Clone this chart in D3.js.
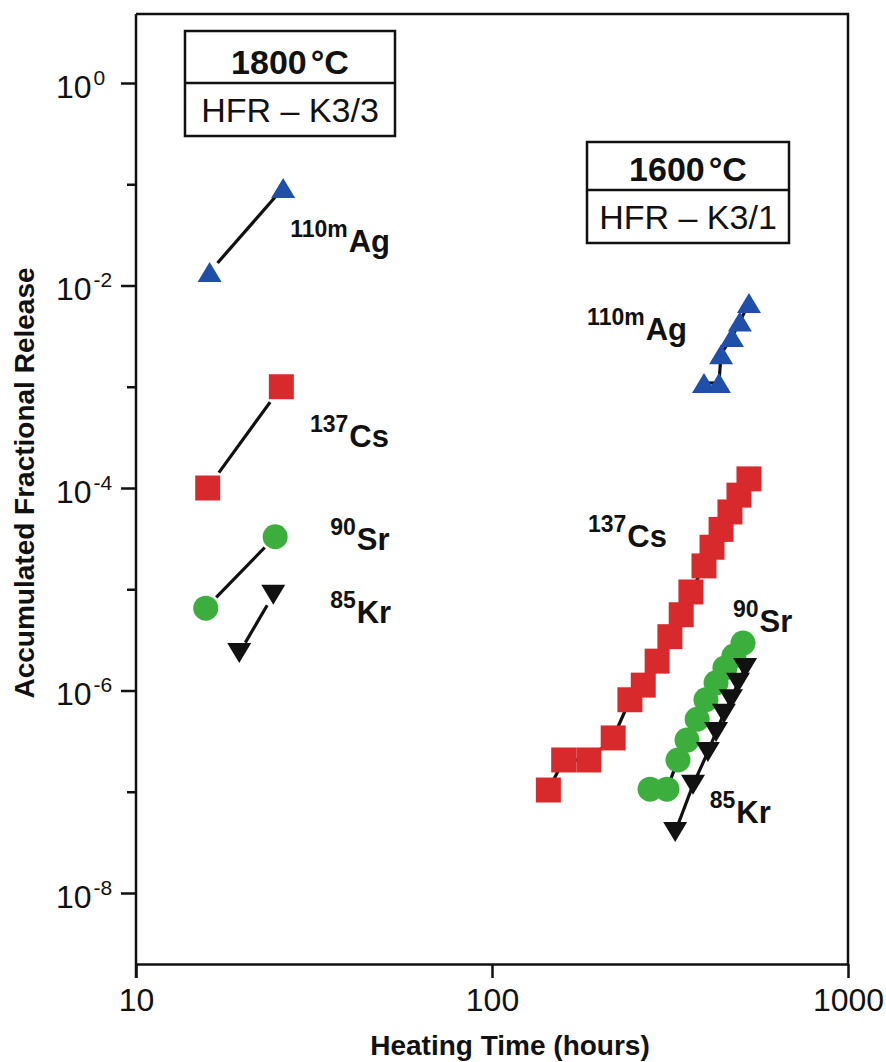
<!DOCTYPE html>
<html>
<head>
<meta charset="utf-8">
<script src="https://cdn.jsdelivr.net/npm/d3@7"></script>
<style>
  html, body { margin: 0; padding: 0; background: #fff; }
  svg { display: block; font-family: "Liberation Sans", Arial, Helvetica, sans-serif; }
</style>
</head>
<body>
<svg id="chart" width="886" height="1062"></svg>
<script>
// ---- data (hours, accumulated fractional release) ----
// 1800 °C, HFR-K3/3
const agTime1800 = [16.1, 25.9];
const agRel1800  = [1.36e-2, 9.2e-2];
const csTime1800 = [15.9, 25.6];
const csRel1800  = [1.0e-4, 1.0e-3];
const srTime1800 = [15.7, 24.6];
const srRel1800  = [6.5e-6, 3.3e-5];
const krTime1800 = [19.5, 24.3];
const krRel1800  = [2.35e-6, 8.8e-6];

// 1600 °C, HFR-K3/1
const agTime1600 = [394, 434, 440, 472, 497, 527];
const agRel1600  = [1.09e-3, 1.09e-3, 2.1e-3, 3.1e-3, 4.4e-3, 6.7e-3];
const csTime1600 = [144, 159, 187, 219, 244, 266, 291, 316, 340, 362, 394, 415, 440, 466, 494, 527];
const csRel1600  = [1.04e-7, 2.06e-7, 2.06e-7, 3.4e-7, 8.1e-7, 1.13e-6, 1.95e-6, 3.4e-6, 5.6e-6,
                    9.4e-6, 1.7e-5, 2.6e-5, 3.9e-5, 5.8e-5, 8.5e-5, 1.23e-4];
const srTime1600 = [278, 310, 333, 353, 377, 399, 426, 451, 478, 507];
const srRel1600  = [1.06e-7, 1.06e-7, 2.06e-7, 3.24e-7, 5.2e-7, 8.1e-7, 1.19e-6, 1.67e-6, 2.19e-6, 2.94e-6];
const krTime1600 = [327, 367, 404, 426, 448, 469, 491, 514];
const krRel1600  = [4.0e-8, 1.17e-7, 2.47e-7, 3.89e-7, 5.9e-7, 8.2e-7, 1.19e-6, 1.67e-6];

// axis ticks
const xTicks = [10, 100, 1000];
const yExps  = [0, -1, -2, -3, -4, -5, -6, -7, -8];

// nuclide labels: [mass, element, time, release at baseline]
const labels = [
  ['110m', 'Ag', 27.1, 2.14e-2],
  ['137',  'Cs', 30.8, 2.54e-4],
  ['90',   'Sr', 35.1, 2.44e-5],
  ['85',   'Kr', 35.1, 4.64e-6],
  ['110m', 'Ag', 185,  2.9e-3],
  ['137',  'Cs', 186,  2.6e-5],
  ['90',   'Sr', 475,  3.8e-6],
  ['85',   'Kr', 409,  4.9e-8]
];

// ---- style ----
const COL = {ag:'#1f4fa9', cs:'#d82a2c', sr:'#3cae3e', kr:'#111111'};

const x = d3.scaleLog().domain([10, 1000]).range([136, 848]);
const y = d3.scaleLog().domain([1e-8, 1]).range([893, 83]);
const yTop = y.invert(14), yBot = y.invert(964);

const svg = d3.select('#chart');

const series = [
  {t:agTime1800, r:agRel1800, shape:'tri',  c:COL.ag, trim:12},
  {t:csTime1800, r:csRel1800, shape:'sq',   c:COL.cs, trim:19},
  {t:srTime1800, r:srRel1800, shape:'circ', c:COL.sr, trim:15},
  {t:krTime1800, r:krRel1800, shape:'tdn',  c:COL.kr, trim:12},
  {t:agTime1600, r:agRel1600, shape:'tri',  c:COL.ag, trim:0},
  {t:csTime1600, r:csRel1600, shape:'sq',   c:COL.cs, trim:0},
  {t:srTime1600, r:srRel1600, shape:'circ', c:COL.sr, trim:0},
  {t:krTime1600, r:krRel1600, shape:'tdn',  c:COL.kr, trim:0}
];

const SHAPES = {
  tri:  'M0,-10L12,10L-12,10Z',
  tdn:  'M-12,-10L12,-10L0,10Z',
  sq:   'M-12.5,-12.5h25v25h-25Z',
  circ: d3.symbol().type(d3.symbolCircle).size(Math.PI * 12.5 * 12.5)()
};

// frame (top and right)
svg.append('path')
  .attr('d', `M${x(10)},${y(yTop)}H${x(1000)}V${y(yBot)}`)
  .attr('fill', 'none').attr('stroke', '#111').attr('stroke-width', 2.5);

// x axis
const gx = svg.append('g').attr('transform', `translate(0,${y(yBot)})`)
  .call(d3.axisBottom(x).tickValues(xTicks).tickSize(14).tickSizeOuter(0).tickFormat(d3.format('d')));
gx.select('.domain').attr('stroke', '#111').attr('stroke-width', 2.5);
gx.selectAll('.tick line').attr('stroke', '#111').attr('stroke-width', 2.5);
gx.selectAll('.tick text').attr('font-size', 32).attr('fill', '#111')
  .attr('font-family', '"Liberation Sans", Arial, sans-serif').attr('dy', null).attr('y', 47);

// y axis: long ticks on even decades, short on odd
const gy = svg.append('g').attr('transform', `translate(${x(10)},0)`)
  .call(d3.axisLeft(y).tickValues(yExps.map(e => Math.pow(10, e))).tickFormat('').tickSizeOuter(0));
gy.select('.domain').attr('d', `M0,${y(yTop)}V${y(yBot) + 14}`)
  .attr('stroke', '#111').attr('stroke-width', 2.5);
gy.selectAll('.tick line')
  .attr('x2', d => (Math.round(Math.log10(d)) % 2 === 0 ? -15 : -9))
  .attr('stroke', '#111').attr('stroke-width', 2.5);
gy.selectAll('.tick').filter(d => Math.round(Math.log10(d)) % 2 === 0)
  .append('text')
  .attr('x', -80).attr('y', 0).attr('fill', '#111').attr('text-anchor', 'start')
  .each(function(d) {
    const e = Math.round(Math.log10(d));
    const t = d3.select(this);
    t.append('tspan').attr('font-size', 32).attr('dy', 14).text('10');
    t.append('tspan').attr('font-size', 21).attr('dx', 2).attr('dy', -13).text(e === 0 ? '0' : String(e));
  });

// axis titles
svg.append('text')
  .attr('transform', `translate(34,483) rotate(-90)`)
  .attr('text-anchor', 'middle').attr('font-weight', 'bold').attr('font-size', 28).attr('fill', '#111')
  .text('Accumulated Fractional Release');
svg.append('text')
  .attr('x', 510).attr('y', 1055)
  .attr('text-anchor', 'middle').attr('font-weight', 'bold').attr('font-size', 28).attr('fill', '#111')
  .text('Heating Time (hours)');

// connecting lines
const lineG = svg.append('g').attr('stroke', '#111').attr('stroke-width', 3.2).attr('stroke-linecap', 'butt');
series.forEach(s => {
  const pts = s.t.map((t, i) => [x(t), y(s.r[i])]);
  d3.pairs(pts).forEach(([a, b]) => {
    const dx = b[0] - a[0], dy = b[1] - a[1], len = Math.hypot(dx, dy);
    if (len <= 2 * s.trim + 1) return;
    const ux = dx / len, uy = dy / len;
    lineG.append('line')
      .attr('x1', a[0] + ux * s.trim).attr('y1', a[1] + uy * s.trim)
      .attr('x2', b[0] - ux * s.trim).attr('y2', b[1] - uy * s.trim);
  });
});

// markers
series.forEach(s => {
  svg.append('g').selectAll('path')
    .data(s.t.map((t, i) => ({t, r: s.r[i]})))
    .join('path')
    .attr('d', SHAPES[s.shape])
    .attr('transform', d => `translate(${x(d.t)},${y(d.r)})`)
    .attr('fill', s.c);
});

// nuclide labels
labels.forEach(([mass, el, t, r]) => {
  const tx = svg.append('text').attr('x', x(t)).attr('y', y(r))
    .attr('font-weight', 'bold').attr('fill', '#111');
  tx.append('tspan').attr('font-size', 23).attr('dy', -15).text(mass);
  tx.append('tspan').attr('font-size', 31).attr('dx', 1).attr('dy', 15).text(el);
});

// condition boxes
const boxes = [
  {temp:'1800', id:'HFR – K3/3', x0:185, x1:395, y0:31, y1:136, mid:83},
  {temp:'1600', id:'HFR – K3/1', x0:587, x1:789, y0:142, y1:243, mid:190}
];
boxes.forEach(b => {
  const g = svg.append('g');
  g.append('rect').attr('x', b.x0).attr('y', b.y0)
    .attr('width', b.x1 - b.x0).attr('height', b.y1 - b.y0)
    .attr('fill', '#fff').attr('stroke', '#111').attr('stroke-width', 2.5);
  g.append('line').attr('x1', b.x0).attr('x2', b.x1).attr('y1', b.mid).attr('y2', b.mid)
    .attr('stroke', '#111').attr('stroke-width', 2.5);
  const cx = (b.x0 + b.x1) / 2;
  const t1 = g.append('text').attr('x', cx).attr('y', b.mid - 9)
    .attr('text-anchor', 'middle').attr('font-weight', 'bold').attr('font-size', 34).attr('fill', '#111');
  t1.append('tspan').text(b.temp);
  t1.append('tspan').attr('dx', 4).text('°C');
  g.append('text').attr('x', cx).attr('y', b.y1 - 14)
    .attr('text-anchor', 'middle').attr('font-size', 34).attr('fill', '#111')
    .text(b.id);
});
</script>
</body>
</html>
